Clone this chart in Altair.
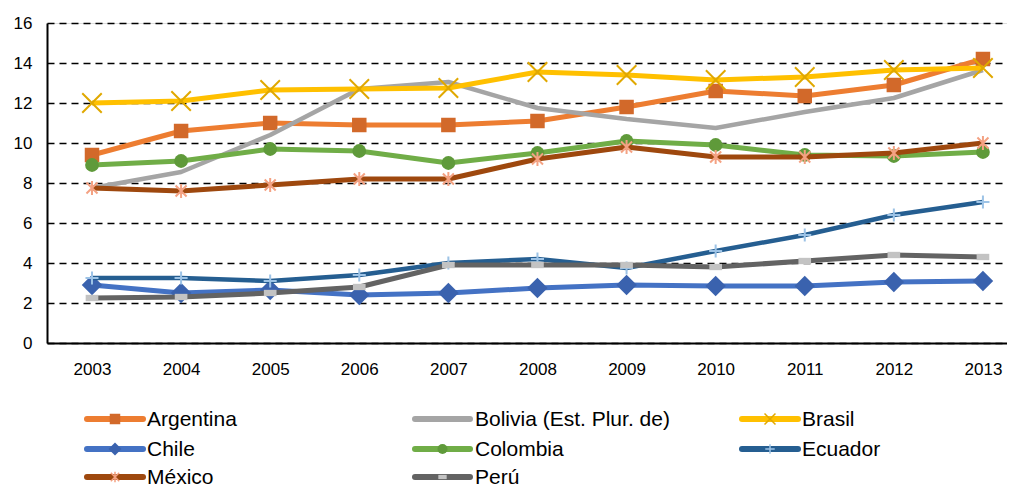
import altair as alt
import pandas as pd

years = list(range(2003, 2014))
series_names = ["Argentina", "Bolivia (Est. Plur. de)", "Brasil", "Chile",
                "Colombia", "Ecuador", "México", "Perú"]
argentina = [9.4, 10.6, 11.0, 10.9, 10.9, 11.1, 11.8, 12.6, 12.35, 12.9, 14.2]
bolivia = [7.75, 8.55, 10.4, 12.7, 13.05, 11.75, 11.2, 10.75, 11.55, 12.25, 13.65]
brasil = [12.0, 12.1, 12.65, 12.7, 12.75, 13.55, 13.4, 13.15, 13.3, 13.65, 13.75]
chile = [2.9, 2.5, 2.65, 2.4, 2.5, 2.75, 2.9, 2.85, 2.85, 3.05, 3.1]
colombia = [8.9, 9.1, 9.7, 9.6, 9.0, 9.5, 10.1, 9.9, 9.4, 9.35, 9.55]
ecuador = [3.25, 3.25, 3.1, 3.4, 4.0, 4.2, 3.75, 4.6, 5.4, 6.4, 7.05]
mexico = [7.75, 7.6, 7.9, 8.2, 8.2, 9.2, 9.8, 9.3, 9.3, 9.5, 10.0]
peru = [2.25, 2.3, 2.5, 2.8, 3.9, 3.9, 3.9, 3.8, 4.1, 4.4, 4.3]
values = [argentina, bolivia, brasil, chile, colombia, ecuador, mexico, peru]
y_ticks = [0, 2, 4, 6, 8, 10, 12, 14, 16]

FONT = "Liberation Sans"
XPATH = "M-1,-1L1,1M-1,1L1,-1"
PLUS = "M-1,0L1,0M0,-1L0,1"
STAR = "M-0.8,-0.8L0.8,0.8M-0.8,0.8L0.8,-0.8M0,-1L0,1"
RECT = "M-1,-0.5L1,-0.5L1,0.5L-1,0.5Z"

# style per series: line color, line width, marker shape, marker color, filled, size, legend size
styles = [
    ("#ED7D31", 5, "square", "#D2692A", True, 210, 110),
    ("#A5A5A5", 4.5, None, None, True, 0, 0),
    ("#FFC000", 5, XPATH, "#E0A800", False, 380, 120),
    ("#4472C4", 5, "diamond", "#3A62AE", True, 420, 170),
    ("#70AD47", 5, "circle", "#5F9A3A", True, 190, 100),
    ("#255E91", 4.5, PLUS, "#9DC3E6", False, 170, 90),
    ("#9E480E", 5, STAR, "#F4A283", False, 190, 110),
    ("#636363", 5, RECT, "#C3C3C3", True, 160, 70),
]

x_enc = alt.X("year:Q",
              scale=alt.Scale(domain=[2002.495, 2013.27], nice=False, zero=False),
              axis=alt.Axis(values=years, format="d", title=None, grid=False,
                            ticks=False, tickSize=0, labelPadding=18,
                            labelFontSize=17, labelFont=FONT, labelColor="#000000",
                            domainColor="#000000", domainWidth=2))
y_enc = alt.Y("value:Q",
              scale=alt.Scale(domain=[0, 16], nice=False),
              axis=alt.Axis(values=y_ticks, title=None, grid=True,
                            gridColor="#000000", gridDash=[7, 5], gridWidth=1.4,
                            ticks=False, tickSize=0, labelPadding=15,
                            labelFontSize=17, labelFont=FONT, labelColor="#000000",
                            domainColor="#000000", domainWidth=2))

layers = []
for name, vals, st in zip(series_names, values, styles):
    color, lw, shape, mcolor, filled, size, lsize = st
    df = pd.DataFrame({"year": years, "value": vals, "pais": name})
    base = alt.Chart(df).encode(x=x_enc, y=y_enc)
    layers.append(base.mark_line(color=color, strokeWidth=lw, strokeJoin="round"))
    if shape:
        if filled:
            pm = base.mark_point(shape=shape, size=size, filled=True, fill=mcolor,
                                 opacity=1, strokeWidth=0)
        else:
            pm = base.mark_point(shape=shape, size=size, filled=False, stroke=mcolor,
                                 opacity=1, strokeWidth=2)
        layers.append(pm)

# legend drawn below the plot (3 columns)
col_line = [(40, 96), (368, 423), (695, 751)]
col_text = [100, 428, 755]
row_y = [396, 426, 454]
one = pd.DataFrame({"k": [0]})
for i, (name, st) in enumerate(zip(series_names, styles)):
    color, lw, shape, mcolor, filled, size, lsize = st
    c, r = i % 3, i // 3
    x0, x1 = col_line[c]
    yy = row_y[r]
    layers.append(alt.Chart(one).mark_rule(color=color, strokeWidth=6, strokeCap="round")
                  .encode(x=alt.value(x0), x2=alt.value(x1), y=alt.value(yy)))
    if shape:
        if filled:
            lm = alt.Chart(one).mark_point(shape=shape, size=lsize, filled=True, fill=mcolor,
                                           opacity=1, strokeWidth=0)
        else:
            lm = alt.Chart(one).mark_point(shape=shape, size=lsize, filled=False, stroke=mcolor,
                                           opacity=1, strokeWidth=1.5)
        layers.append(lm.encode(x=alt.value((x0 + x1) / 2), y=alt.value(yy)))
    layers.append(alt.Chart(one).mark_text(align="left", baseline="middle", font=FONT,
                                           fontSize=21, color="#000000")
                  .encode(x=alt.value(col_text[c]), y=alt.value(yy + 1), text=alt.value(name)))

chart = alt.layer(*layers).properties(
    width=960, height=320,
    autosize=alt.AutoSizeParams(type="none"),
    padding={"left": 39, "top": 15, "right": 0, "bottom": 147},
).configure_view(stroke=None).configure(background="#ffffff")

chart.save("out.html", embed_options={"renderer": "svg", "actions": False})
